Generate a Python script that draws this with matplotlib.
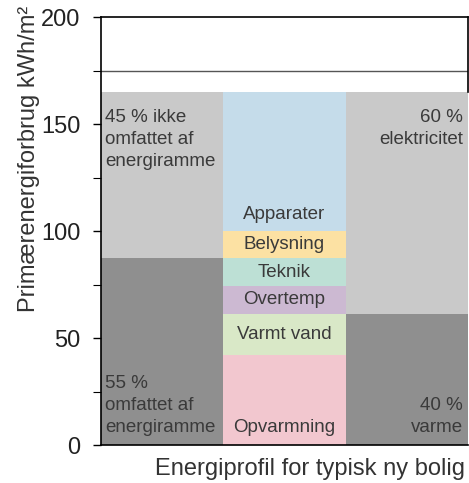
import matplotlib.pyplot as plt
import numpy as np

plt.rcParams['font.family'] = ['Liberation Sans', 'DejaVu Sans']

# energiprofil (kWh/m2), nedefra og op
profil_navne = ['Opvarmning', 'Varmt vand', 'Overtemp', 'Teknik', 'Belysning', 'Apparater']
profil_vaerdier = [42, 19.5, 13, 13, 12.5, 65]
profil_farver = ['#f2c7cf', '#d9e8c7', '#ccb9d2', '#bde0d5', '#fce1a3', '#c5dcea']

# energiramme: omfattet / ikke omfattet
ramme_vaerdier = [87.5, 77.5]
ramme_tekster = ['55 %\nomfattet af\nenergiramme', '45 % ikke\nomfattet af\nenergiramme']

# varme / elektricitet
el_vaerdier = [61.5, 103.5]
el_tekster = ['40 %\nvarme', '60 %\nelektricitet']

graa = ['#8f8f8f', '#c9c9c9']
graense = 175
yticks = [0, 50, 100, 150, 200]


def stacked(ax, x, values, colors):
    bottom = 0
    for v, c in zip(values, colors):
        ax.bar(x, v, width=1, bottom=bottom, color=c, linewidth=0, zorder=1)
        bottom += v
    return bottom


fig = plt.figure(figsize=(4.69, 4.83), dpi=100)
ax = fig.add_axes([0.2154, 0.078, 0.7826, 0.886])

total = stacked(ax, 0, ramme_vaerdier, graa)
stacked(ax, 1, profil_vaerdier, profil_farver)
stacked(ax, 2, el_vaerdier, graa)

tc = '#3a3a3a'
fs = 13.5
ls = 1.38
ax.text(-0.467, total - 8, ramme_tekster[1], ha='left', va='top', fontsize=fs, color=tc, linespacing=ls)
ax.text(-0.467, 4.5, ramme_tekster[0], ha='left', va='bottom', fontsize=fs, color=tc, linespacing=ls)
ax.text(2.46, total - 8, el_tekster[1], ha='right', va='top', fontsize=fs, color=tc, linespacing=ls,
        multialignment='right')
ax.text(2.46, 4.5, el_tekster[0], ha='right', va='bottom', fontsize=fs, color=tc, linespacing=ls,
        multialignment='right')

bunde = np.concatenate([[0], np.cumsum(profil_vaerdier)[:-1]])
for navn, b, v in zip(profil_navne, bunde, profil_vaerdier):
    if navn == 'Opvarmning':
        ax.text(1, 4.5, navn, ha='center', va='bottom', fontsize=fs, color=tc)
    elif navn == 'Apparater':
        ax.text(1, b + 4, navn, ha='center', va='bottom', fontsize=fs, color=tc)
    else:
        ax.text(1, b + v / 2, navn, ha='center', va='center', fontsize=fs, color=tc)

ax.axhline(graense, color='#555555', lw=1, zorder=0)

ax.set_xlim(-0.5, 2.5)
ax.set_ylim(0, 200)
ax.set_xticks([])
ax.set_yticks(yticks)
ax.set_yticks([25, 75, 125, 175], minor=True)
ax.tick_params(axis='y', which='major', labelsize=17, length=6, width=1, pad=9, labelcolor='#222222')
ax.tick_params(axis='y', which='minor', length=6, width=0.8)
ax.spines['right'].set_bounds(total, 200)
for s in ax.spines.values():
    s.set_linewidth(1.2)
ax.spines['bottom'].set_zorder(3)

ax.set_ylabel('Primærenergiforbrug kWh/m²', fontsize=17, color='#333333')
ax.yaxis.set_label_coords(-0.166, 0.67)
ax.set_xlabel('Energiprofil for typisk ny bolig', fontsize=17, color='#333333')
ax.xaxis.set_label_coords(0.57, -0.03)
ax.xaxis.label.set_va('top')

fig.savefig('out.png', dpi=100)
